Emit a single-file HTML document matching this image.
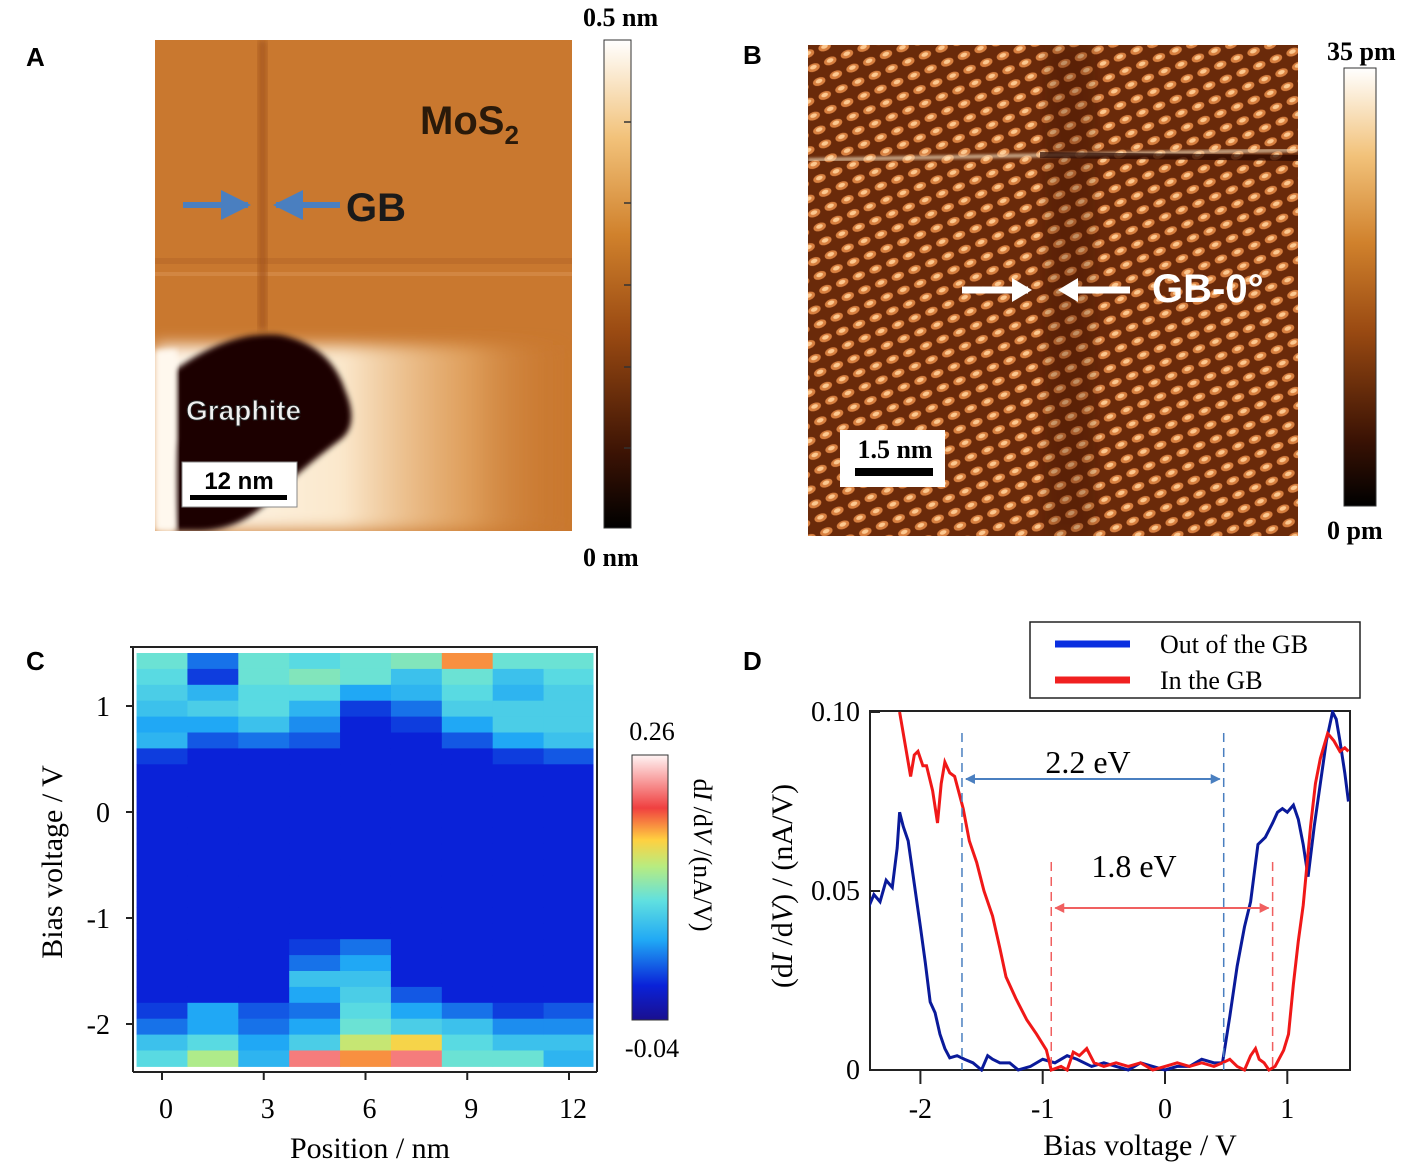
<!DOCTYPE html>
<html><head><meta charset="utf-8">
<style>
html,body{margin:0;padding:0;background:#fff;}
svg{display:block;}
.lt{font-family:"Liberation Sans",Arial,sans-serif;font-weight:bold;}
.sf{font-family:"Liberation Serif","Times New Roman",serif;}
</style></head>
<body>
<svg id="fig" width="1418" height="1170" viewBox="0 0 1418 1170" xmlns="http://www.w3.org/2000/svg">
<defs>
  <linearGradient id="cbA" x1="0" y1="1" x2="0" y2="0">
    <stop offset="0" stop-color="#000"/><stop offset="0.15" stop-color="#3a1204"/>
    <stop offset="0.4" stop-color="#9a4a12"/><stop offset="0.6" stop-color="#d0812c"/>
    <stop offset="0.8" stop-color="#f2c27a"/><stop offset="1" stop-color="#fff"/>
  </linearGradient>
  <linearGradient id="cbC" x1="0" y1="1" x2="0" y2="0">
    <stop offset="0" stop-color="#1a0f8f"/><stop offset="0.13" stop-color="#0a22d8"/>
    <stop offset="0.3" stop-color="#20a8f5"/><stop offset="0.45" stop-color="#60e0e0"/>
    <stop offset="0.58" stop-color="#b8ec80"/><stop offset="0.68" stop-color="#ffd040"/>
    <stop offset="0.8" stop-color="#f04040"/><stop offset="1" stop-color="#fff4f4"/>
  </linearGradient>
  <linearGradient id="fadeA" x1="0" y1="0" x2="1" y2="0">
    <stop offset="0" stop-color="#fff8ee"/><stop offset="0.45" stop-color="#fbe8cc"/>
    <stop offset="0.75" stop-color="#e8b070" stop-opacity="0.7"/><stop offset="1" stop-color="#c9782f" stop-opacity="0"/>
  </linearGradient>
  <filter id="blur8"><feGaussianBlur stdDeviation="8"/></filter>
  <filter id="blur3"><feGaussianBlur stdDeviation="3"/></filter>
  <filter id="blur1"><feGaussianBlur stdDeviation="1.2"/></filter>
  <pattern id="latt" width="18" height="15" patternUnits="userSpaceOnUse" patternTransform="rotate(-22)">
    <rect width="18" height="15" fill="#6a2a0a"/>
    <ellipse cx="9" cy="7.5" rx="6.5" ry="4" fill="#d88040"/>
    <ellipse cx="9" cy="7" rx="3.5" ry="2" fill="#fcc890"/>
  </pattern>
  <clipPath id="clipA"><rect x="155" y="40" width="417" height="491"/></clipPath>
  <clipPath id="clipB"><rect x="808" y="45" width="490" height="491"/></clipPath>
  <clipPath id="clipD"><rect x="870" y="710" width="480" height="362"/></clipPath>
  <marker id="arB" viewBox="0 0 10 10" refX="9" refY="5" markerWidth="5" markerHeight="5" orient="auto-start-reverse"><path d="M0,0L10,5L0,10z" fill="#4a7fc0"/></marker>
  <marker id="arR" viewBox="0 0 10 10" refX="9" refY="5" markerWidth="5" markerHeight="5" orient="auto-start-reverse"><path d="M0,0L10,5L0,10z" fill="#f06060"/></marker>
</defs>

<text class="lt" x="26" y="66" font-size="26">A</text>
<text class="lt" x="743" y="64" font-size="26">B</text>
<text class="lt" x="26" y="670" font-size="26">C</text>
<text class="lt" x="743" y="670" font-size="26">D</text>

<!-- Panel A image -->
<g clip-path="url(#clipA)">
  <rect x="155" y="40" width="417" height="491" fill="#c9782f"/>
  <rect x="155" y="258" width="417" height="6" fill="#b8682a" opacity="0.6"/>
  <rect x="155" y="272" width="417" height="4" fill="#d89050" opacity="0.6"/>
  <rect x="258" y="40" width="9" height="290" fill="#a0521a" filter="url(#blur3)" opacity="0.7"/>
  <rect x="155" y="345" width="417" height="186" fill="url(#fadeA)" filter="url(#blur8)"/>
  <path d="M175,370 Q230,330 280,335 Q330,345 345,390 Q360,425 340,440 Q300,470 270,500 Q240,530 200,531 L175,531 Q168,470 175,440 Z" fill="#1a0500" filter="url(#blur3)"/>
  <rect x="155" y="350" width="22" height="181" fill="#fff8ee" filter="url(#blur3)"/>
</g>
<line x1="183" y1="205" x2="248" y2="205" stroke="#4a7fc0" stroke-width="6" marker-end="url(#arB)"/>
<line x1="340" y1="205" x2="276" y2="205" stroke="#4a7fc0" stroke-width="6" marker-end="url(#arB)"/>
<text class="lt" x="346" y="221" font-size="40" fill="#1a1a1a">GB</text>
<text class="lt" x="420" y="134" font-size="40" fill="#2a1a0a">MoS<tspan font-size="26" dy="10">2</tspan></text>
<text class="lt" x="186" y="420" font-size="28" fill="#f0f0f0" stroke="#222" stroke-width="1">Graphite</text>
<g>
  <rect x="182" y="462" width="115" height="45" fill="#fff" stroke="#888"/>
  <text class="lt" x="239" y="489" font-size="24" text-anchor="middle">12 nm</text>
  <rect x="190" y="495" width="97" height="5" fill="#000"/>
</g>
<g>
  <rect x="604" y="40" width="27" height="488" fill="url(#cbA)" stroke="#333"/>
  <g stroke="#333" stroke-width="1.5">
    <line x1="624" y1="122" x2="631" y2="122"/><line x1="624" y1="203" x2="631" y2="203"/>
    <line x1="624" y1="285" x2="631" y2="285"/><line x1="624" y1="367" x2="631" y2="367"/>
    <line x1="624" y1="448" x2="631" y2="448"/>
  </g>
  <text class="sf" x="583" y="26" font-size="26" font-weight="bold">0.5 nm</text>
  <text class="sf" x="583" y="566" font-size="26" font-weight="bold">0 nm</text>
</g>

<!-- Panel B image -->
<g clip-path="url(#clipB)">
  <rect x="808" y="45" width="490" height="491" fill="url(#latt)"/>
  <rect x="1045" y="45" width="50" height="491" fill="#3a1000" opacity="0.3" filter="url(#blur8)"/>
  <path d="M808,160 L1298,150" stroke="#fff0d0" stroke-width="4" opacity="0.6" filter="url(#blur1)"/>
  <path d="M1040,155 L1298,158" stroke="#2a0800" stroke-width="6" opacity="0.7"/>
  <path d="M808,372 L1298,372" stroke="#fff0d0" stroke-width="3" opacity="0.5" filter="url(#blur1)"/>
</g>
<line x1="962" y1="290" x2="1028" y2="290" stroke="#fff" stroke-width="7"/>
<path d="M1032,290 L1012,278 L1012,302 Z" fill="#fff"/>
<line x1="1130" y1="290" x2="1064" y2="290" stroke="#fff" stroke-width="7"/>
<path d="M1058,290 L1078,278 L1078,302 Z" fill="#fff"/>
<text class="lt" x="1152" y="302" font-size="40" fill="#fff">GB-0°</text>
<g>
  <rect x="840" y="430" width="105" height="57" fill="#fff"/>
  <text class="sf" x="895" y="458" font-size="26" font-weight="bold" text-anchor="middle">1.5 nm</text>
  <rect x="855" y="468" width="78" height="8" fill="#000"/>
</g>
<g>
  <rect x="1344" y="68" width="32" height="438" fill="url(#cbA)" stroke="#333"/>
  <text class="sf" x="1327" y="60" font-size="26" font-weight="bold">35 pm</text>
  <text class="sf" x="1327" y="539" font-size="26" font-weight="bold">0 pm</text>
</g>

<!-- Panel C -->
<g id="heat"></g>
<g id="axC"></g>
<g>
  <rect x="632" y="755" width="36" height="265" fill="url(#cbC)" stroke="#333"/>
  <text class="sf" x="652" y="740" font-size="26" text-anchor="middle">0.26</text>
  <text class="sf" x="652" y="1057" font-size="26" text-anchor="middle">-0.04</text>
  <text class="sf" transform="translate(694,855) rotate(90)" font-size="26" text-anchor="middle">d<tspan font-style="italic">I</tspan> /d<tspan font-style="italic">V</tspan> /(nA/V)</text>
</g>

<!-- Panel D -->
<g>
  <rect x="1030" y="622" width="330" height="76" fill="#fff" stroke="#222" stroke-width="1.5"/>
  <line x1="1055" y1="644" x2="1130" y2="644" stroke="#0a2fe0" stroke-width="7"/>
  <text class="sf" x="1160" y="653" font-size="26">Out of the GB</text>
  <line x1="1055" y1="680" x2="1130" y2="680" stroke="#f02020" stroke-width="7"/>
  <text class="sf" x="1160" y="689" font-size="26">In the GB</text>
</g>
<g id="axD"></g>
</svg>

<script>
// ---- Panel C data ----
const positionsC = [0, 1.5, 3, 4.5, 6, 7.5, 9, 10.5, 12];
const biasRowTopsC = [1.5,1.35,1.2,1.05,0.9,0.75,0.6,0.45,0.3,0.15,0,-0.15,-0.3,-0.45,-0.6,-0.75,-0.9,-1.05,-1.2,-1.35,-1.5,-1.65,-1.8,-1.95,-2.1,-2.25];
const col0 = [0.10,0.09,0.08,0.07,0.05,0.06,0.01,0,0,0,0,0,0,0,0,0,0,0,0,0,0,0,0.01,0.03,0.07,0.09];
const col1 = [0.03,0.01,0.06,0.08,0.05,0.02,0,0,0,0,0,0,0,0,0,0,0,0,0,0,0,0,0.05,0.05,0.09,0.13];
const col2 = [0.10,0.10,0.09,0.09,0.07,0.03,0,0,0,0,0,0,0,0,0,0,0,0,0,0,0,0,0.02,0.03,0.05,0.06];
const col3 = [0.09,0.11,0.09,0.06,0.04,0.02,0,0,0,0,0,0,0,0,0,0,0,0,0.01,0.03,0.07,0.05,0.03,0.05,0.08,0.22];
const col4 = [0.10,0.10,0.05,0.01,0,0,0,0,0,0,0,0,0,0,0,0,0,0,0.03,0.05,0.07,0.08,0.09,0.10,0.14,0.18];
const col5 = [0.11,0.07,0.06,0.03,0.01,0,0,0,0,0,0,0,0,0,0,0,0,0,0,0,0,0.02,0.05,0.08,0.16,0.22];
const col6 = [0.18,0.10,0.09,0.08,0.05,0.02,0,0,0,0,0,0,0,0,0,0,0,0,0,0,0,0,0.03,0.07,0.09,0.10];
const col7 = [0.10,0.07,0.06,0.08,0.08,0.05,0.01,0,0,0,0,0,0,0,0,0,0,0,0,0,0,0,0.01,0.04,0.07,0.10];
const col8 = [0.10,0.09,0.08,0.08,0.08,0.07,0.02,0,0,0,0,0,0,0,0,0,0,0,0,0,0,0,0.02,0.04,0.07,0.06];
const heatValues = [col0,col1,col2,col3,col4,col5,col6,col7,col8];
const xTicksC = [0,3,6,9,12];
const yTicksC = [1,0,-1,-2];

// ---- Panel D data ----
const biasOut = [-2.43,-2.38,-2.33,-2.28,-2.23,-2.19,-2.17,-2.14,-2.10,-2.05,-2.00,-1.96,-1.92,-1.88,-1.84,-1.80,-1.76,-1.70,-1.64,-1.57,-1.50,-1.45,-1.41,-1.35,-1.27,-1.20,-1.10,-1.0,-0.90,-0.80,-0.72,-0.6,-0.5,-0.4,-0.3,-0.2,-0.1,0,0.1,0.2,0.3,0.4,0.47,0.53,0.59,0.65,0.70,0.76,0.82,0.88,0.92,0.96,1.00,1.05,1.09,1.13,1.17,1.22,1.27,1.32,1.37,1.40,1.43,1.47,1.50];
const dIdVOut = [0.045,0.049,0.047,0.053,0.051,0.062,0.072,0.068,0.064,0.052,0.040,0.030,0.019,0.016,0.010,0.006,0.0034,0.004,0.003,0.002,0.0,0.004,0.003,0.002,0.002,0.0,0.001,0.003,0.002,0.004,0.003,0.001,0.002,0.001,0.0,0.002,0.001,0.0,0.001,0.001,0.003,0.002,0.002,0.015,0.029,0.040,0.047,0.063,0.065,0.069,0.072,0.073,0.072,0.074,0.070,0.063,0.054,0.068,0.080,0.092,0.100,0.098,0.092,0.083,0.075];
const biasIn = [-2.17,-2.12,-2.08,-2.05,-2.02,-1.98,-1.95,-1.90,-1.86,-1.83,-1.80,-1.76,-1.72,-1.65,-1.60,-1.54,-1.48,-1.41,-1.35,-1.30,-1.22,-1.13,-1.05,-0.97,-0.93,-0.85,-0.80,-0.75,-0.70,-0.64,-0.58,-0.5,-0.4,-0.3,-0.2,-0.1,0,0.1,0.2,0.3,0.4,0.47,0.53,0.59,0.65,0.70,0.74,0.77,0.81,0.85,0.90,0.97,1.01,1.05,1.09,1.13,1.19,1.23,1.27,1.33,1.38,1.43,1.47,1.50];
const dIdVIn = [0.100,0.090,0.082,0.088,0.089,0.085,0.085,0.078,0.069,0.080,0.086,0.083,0.082,0.073,0.064,0.058,0.050,0.043,0.034,0.026,0.020,0.014,0.010,0.0056,0.0,0.001,0.0,0.005,0.004,0.006,0.002,0.001,0.002,0.001,0.002,0.0,0.001,0.002,0.001,0.002,0.001,0.002,0.003,0.001,0.0,0.004,0.006,0.003,0.002,0.0,0.001,0.0055,0.010,0.024,0.036,0.046,0.068,0.080,0.087,0.094,0.092,0.089,0.090,0.089];
const xTicksD = [-2,-1,0,1];
const yTicksD = [0,0.05,0.10];
const yTickLabelsD = ["0","0.05","0.10"];

const NS = "http://www.w3.org/2000/svg";
function mk(tag, attrs, parent){ const e=document.createElementNS(NS,tag); for(const k in attrs) e.setAttribute(k,attrs[k]); parent.appendChild(e); return e; }

// Panel C scales
const xC = p => 162 + p*(569-162)/12;
const yC = v => 812 - v*106;
const stops = [[-0.04,[26,15,143]],[0.0,[10,34,216]],[0.05,[32,168,245]],[0.095,[96,224,224]],[0.134,[184,236,128]],[0.164,[255,208,64]],[0.2,[240,64,64]],[0.26,[255,244,244]]];
function cmap(v){
  if(v<=stops[0][0]) return 'rgb('+stops[0][1].join(',')+')';
  for(let i=1;i<stops.length;i++){ if(v<=stops[i][0]){ const a=stops[i-1],b=stops[i],t=(v-a[0])/(b[0]-a[0]); const c=a[1].map((x,j)=>Math.round(x+(b[1][j]-x)*t)); return 'rgb('+c.join(',')+')'; } }
  return 'rgb('+stops[stops.length-1][1].join(',')+')';
}
const heat = document.getElementById('heat');
const halfW = 0.75;
heatValues.forEach((col,ci)=>{
  col.forEach((val,ri)=>{
    const top = biasRowTopsC[ri];
    const bot = ri+1<biasRowTopsC.length ? biasRowTopsC[ri+1] : top-0.15;
    const x0 = Math.max(136, xC(positionsC[ci]-halfW)), x1 = Math.min(593, xC(positionsC[ci]+halfW));
    const r = mk('rect',{x:x0,y:yC(top),width:x1-x0+0.5,height:yC(bot)-yC(top)+0.5,fill:cmap(val)},heat);
    
    
  });
});
const axC = document.getElementById('axC');
mk('line',{x1:130,y1:647,x2:598,y2:647,stroke:'#222','stroke-width':2},axC);
mk('line',{x1:133,y1:647,x2:133,y2:1072,stroke:'#222','stroke-width':2},axC);
mk('line',{x1:597,y1:647,x2:597,y2:1072,stroke:'#222','stroke-width':2},axC);
mk('line',{x1:133,y1:1072,x2:597,y2:1072,stroke:'#222','stroke-width':2},axC);
xTicksC.forEach(t=>{
  mk('line',{x1:xC(t),y1:1072,x2:xC(t),y2:1080,stroke:'#222','stroke-width':2},axC);
  const tx = mk('text',{x:xC(t)+4,y:1118,'font-size':28,'text-anchor':'middle',class:'sf'},axC); tx.textContent=t;
  
  
});
yTicksC.forEach(t=>{
  mk('line',{x1:126,y1:yC(t),x2:133,y2:yC(t),stroke:'#222','stroke-width':2},axC);
  const tx = mk('text',{x:110,y:yC(t)+10,'font-size':28,'text-anchor':'end',class:'sf'},axC); tx.textContent=t;
  
  
});
const xlC = mk('text',{x:370,y:1158,'font-size':30,'text-anchor':'middle',class:'sf'},axC); xlC.textContent='Position / nm';


const ylC = mk('text',{transform:'translate(62,862) rotate(-90)','font-size':30,'text-anchor':'middle',class:'sf'},axC); ylC.textContent='Bias voltage / V';



// Panel D scales
const xD = v => 1165 + v*122.3;
const yD = d => 1070 - d*3580;
const axD = document.getElementById('axD');
mk('rect',{x:870,y:711,width:480,height:359,fill:'none',stroke:'#222','stroke-width':2},axD);
xTicksD.forEach(t=>{
  mk('line',{x1:xD(t),y1:1070,x2:xD(t),y2:1084,stroke:'#222','stroke-width':2},axD);
  const tx = mk('text',{x:xD(t),y:1118,'font-size':28,'text-anchor':'middle',class:'sf'},axD); tx.textContent=String(t);
  
  
});
yTicksD.forEach((t,i)=>{
  mk('line',{x1:870,y1:yD(t),x2:880,y2:yD(t),stroke:'#222','stroke-width':2},axD);
  const tx = mk('text',{x:860,y:yD(t)+9,'font-size':28,'text-anchor':'end',class:'sf'},axD); tx.textContent=yTickLabelsD[i];
  
  
});
const xlD = mk('text',{x:1140,y:1155,'font-size':30,'text-anchor':'middle',class:'sf'},axD); xlD.textContent='Bias voltage  / V';


const ylD = mk('text',{transform:'translate(792,886) rotate(-90)','font-size':30,'text-anchor':'middle',class:'sf'},axD);
const s1 = mk('tspan',{},ylD); s1.textContent='(d';
const s2 = mk('tspan',{'font-style':'italic'},ylD); s2.textContent='I';
const s3 = mk('tspan',{},ylD); s3.textContent=' /d';
const s4 = mk('tspan',{'font-style':'italic'},ylD); s4.textContent='V';
const s5 = mk('tspan',{},ylD); s5.textContent=') / (nA/V)';



const gD = mk('g',{'clip-path':'url(#clipD)'},axD);
const pOut = mk('polyline',{points:biasOut.map((v,i)=>xD(v)+','+yD(dIdVOut[i])).join(' '),fill:'none',stroke:'#0a1a9a','stroke-width':3},gD);


const pIn = mk('polyline',{points:biasIn.map((v,i)=>xD(v)+','+yD(dIdVIn[i])).join(' '),fill:'none',stroke:'#f01818','stroke-width':3},gD);



const gapOut = [-1.66, 0.48];
const gapIn = [-0.93, 0.88];
gapOut.forEach(v=>{ const l=mk('line',{x1:xD(v),y1:733,x2:xD(v),y2:1070,stroke:'#4a7fc0','stroke-width':1.5,'stroke-dasharray':'9,6'},axD);
    });
gapIn.forEach(v=>{ const l=mk('line',{x1:xD(v),y1:862,x2:xD(v),y2:1070,stroke:'#f06060','stroke-width':1.5,'stroke-dasharray':'9,6'},axD);
    });
const aB = mk('line',{x1:xD(gapOut[0])+4,y1:779,x2:xD(gapOut[1])-4,y2:779,stroke:'#4a7fc0','stroke-width':2,'marker-start':'url(#arB)','marker-end':'url(#arB)'},axD);
 
const aR = mk('line',{x1:xD(gapIn[0])+4,y1:908,x2:xD(gapIn[1])-4,y2:908,stroke:'#f06060','stroke-width':2,'marker-start':'url(#arR)','marker-end':'url(#arR)'},axD);
 
const t1 = mk('text',{x:1088,y:773,'font-size':32,'text-anchor':'middle',class:'sf'},axD); t1.textContent='2.2 eV';
 
const t2 = mk('text',{x:1134,y:877,'font-size':32,'text-anchor':'middle',class:'sf'},axD); t2.textContent='1.8 eV';
 
</script>
</body></html>
